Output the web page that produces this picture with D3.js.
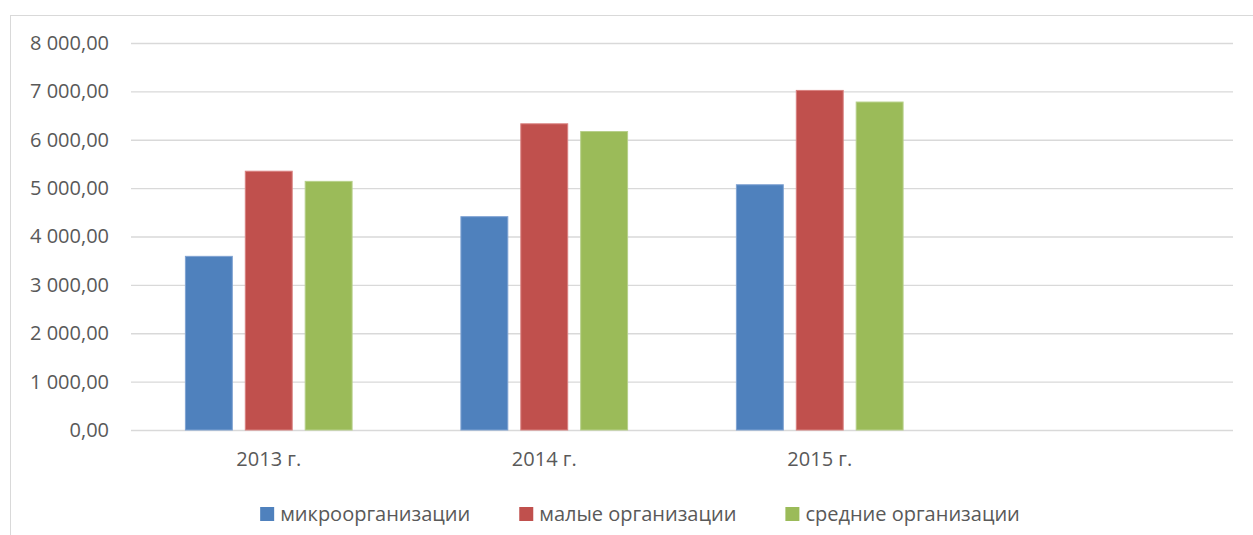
<!DOCTYPE html>
<html>
<head>
<meta charset="utf-8">
<script src="https://cdn.jsdelivr.net/npm/d3@7"></script>
<style>
  body { margin: 0; background: #fff; }
  text { font-family: "Open Sans", sans-serif; fill: #595959; }
</style>
</head>
<body>
<svg id="chart" width="1253" height="535"></svg>
<script>
// data
const categories = ["2013 г.", "2014 г.", "2015 г.", ""];
const seriesNames = ["микроорганизации", "малые организации", "средние организации"];
const micro = [3600, 4420, 5080, null];
const small = [5360, 6340, 7030, null];
const medium = [5150, 6180, 6790, null];
const yTicks = [0, 1000, 2000, 3000, 4000, 5000, 6000, 7000, 8000];

const colors = ["#4F81BD", "#C0504D", "#9BBB59"];
const borders = ["#7FA2D2", "#D98280", "#B7D08A"];

const data = categories.map((c, i) => ({
    cat: c,
    values: [micro[i], small[i], medium[i]]
}));

const svg = d3.select("#chart");
const fontSize = 20;

const plot = {left: 131, right: 1233, top: 43, bottom: 430};

// outer frame (cut by the picture's right and bottom edge)
svg.append("rect")
    .attr("x", 10.5).attr("y", 15.5)
    .attr("width", 1400).attr("height", 700)
    .attr("fill", "none")
    .attr("stroke", "#D9D9D9");

const x0 = d3.scaleBand().domain(categories).range([plot.left, plot.right]);
const x1 = d3.scaleBand().domain(d3.range(seriesNames.length))
    .range([0, x0.bandwidth()])
    .paddingInner(0.2)
    .paddingOuter(0.9);
const y = d3.scaleLinear().domain([0, 8000]).range([plot.bottom, plot.top]);

const locale = d3.formatLocale({decimal: ",", thousands: "\u00a0", grouping: [3], currency: ["", ""]});
const fmt = locale.format(",.2f");

// y axis with gridlines
const yAxis = svg.append("g")
    .attr("transform", `translate(${plot.left},0)`)
    .call(d3.axisLeft(y).tickValues(yTicks).tickFormat(fmt)
        .tickSizeInner(-(plot.right - plot.left)).tickSizeOuter(0).tickPadding(22));
yAxis.select(".domain").remove();
yAxis.selectAll("line").attr("stroke", "#D9D9D9").attr("stroke-width", 1.3);
yAxis.selectAll("text").attr("font-size", fontSize).attr("fill", "#595959")
    .style("font-family", "'Open Sans', sans-serif");

// bars
const groups = svg.append("g").selectAll("g")
    .data(data)
    .join("g")
    .attr("transform", d => `translate(${x0(d.cat)},0)`);

groups.selectAll("rect")
    .data(d => d.values.map((v, i) => ({v, i})).filter(e => e.v != null))
    .join("rect")
    .attr("x", e => x1(e.i) + 0.5)
    .attr("width", x1.bandwidth() - 1)
    .attr("y", e => y(e.v) + 0.5)
    .attr("height", e => y(0) - y(e.v) - 0.5)
    .attr("fill", e => colors[e.i])
    .attr("stroke", e => borders[e.i])
    .attr("stroke-width", 1);

// x axis labels
const xAxis = svg.append("g")
    .attr("transform", `translate(0,${plot.bottom})`)
    .call(d3.axisBottom(x0).tickSize(0).tickPadding(22));
xAxis.select(".domain").remove();
xAxis.selectAll("text").attr("font-size", fontSize).attr("fill", "#595959")
    .style("font-family", "'Open Sans', sans-serif");

// legend
const legend = svg.append("g");
const items = legend.selectAll("g")
    .data(seriesNames)
    .join("g");
items.append("rect")
    .attr("width", 14).attr("height", 14)
    .attr("y", 507)
    .attr("fill", (d, i) => colors[i]);
items.append("text")
    .attr("x", 20)
    .attr("y", 514)
    .attr("dy", "0.35em")
    .attr("font-size", fontSize)
    .text(d => d);

const gap = 49;
let offset = 0;
const positions = [];
items.each(function () {
    const w = d3.select(this).select("text").node().getComputedTextLength();
    positions.push(offset);
    offset += 20 + w + gap;
});
const total = offset - gap;
const start = 640 - total / 2;
items.attr("transform", (d, i) => `translate(${start + positions[i]},0)`);
</script>
</body>
</html>
